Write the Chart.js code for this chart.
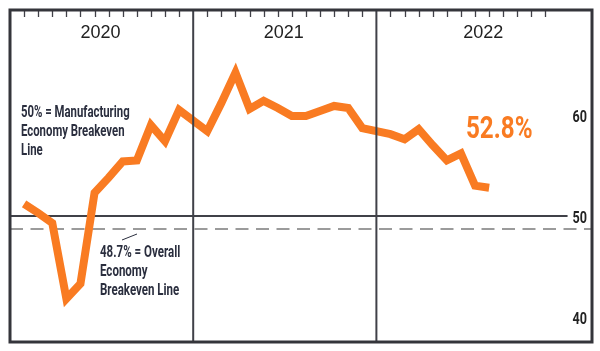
<!DOCTYPE html>
<html>
<head>
<meta charset="utf-8">
<script src="https://cdn.jsdelivr.net/npm/chart.js@4.4.1/dist/chart.umd.min.js"></script>
<style>
  html, body { margin: 0; padding: 0; background: #fff; }
</style>
</head>
<body>
<canvas id="chartCanvas" width="600" height="351"></canvas>
<script>
// ------- Data (monthly PMI) -------
const years = ["2020", "2021", "2022"];
const pmi2020 = [51.2, 50.3, 49.3, 41.8, 43.3, 52.3, 53.8, 55.4, 55.5, 59.0, 57.4, 60.5];
const pmi2021 = [58.4, 61.2, 64.2, 60.6, 61.4, 60.7, 59.9, 59.9, 60.4, 60.9, 60.7, 58.7];
const pmi2022 = [58.1, 57.6, 58.6, 57.0, 55.5, 56.2, 53.0, 52.8];
const yTicks = [40, 50, 60];
const mfgBreakeven = 50;
const overallBreakeven = 48.7;
const latestLabel = "52.8%";
const mfgNote = ["50% = Manufacturing", "Economy Breakeven", "Line"];
const overallNote = ["48.7% = Overall", "Economy", "Breakeven Line"];

// each year takes 13 slots on x: the divider, then Jan..Dec
const SLOTS = 13;
function toPoints(values, yearIdx) {
  return values.map((v, m) => ({ x: yearIdx * SLOTS + m + 1, y: v }));
}
const points = [].concat(
  toPoints(pmi2020, 0),
  toPoints(pmi2021, 1),
  toPoints(pmi2022, 2)
);

// ------- Styles -------
const ORANGE = "#F97B22";
const INK = "#2a2e3e";
const RULE = "#404148";

// fake a condensed face by squeezing horizontally
function squeezedText(ctx, text, x, y, size, color, squeeze, align) {
  ctx.save();
  ctx.font = `bold ${size}px Roboto, "Liberation Sans", sans-serif`;
  ctx.fillStyle = color;
  ctx.textBaseline = "alphabetic";
  ctx.textAlign = "left";
  const w = ctx.measureText(text).width * squeeze;
  const left = align === "right" ? x - w : x;
  ctx.translate(left, y);
  ctx.scale(squeeze, 1);
  ctx.fillText(text, 0, 0);
  ctx.restore();
  return left;
}

function hLine(ctx, x1, x2, y, width, color, dash) {
  ctx.save();
  ctx.beginPath();
  ctx.setLineDash(dash || []);
  ctx.lineWidth = width;
  ctx.strokeStyle = color;
  ctx.moveTo(x1, y);
  ctx.lineTo(x2, y);
  ctx.stroke();
  ctx.restore();
}

function vLine(ctx, x, y1, y2, width, color) {
  ctx.save();
  ctx.beginPath();
  ctx.lineWidth = width;
  ctx.strokeStyle = color;
  ctx.moveTo(x, y1);
  ctx.lineTo(x, y2);
  ctx.stroke();
  ctx.restore();
}

// ------- Decorations plugin -------
const decor = {
  id: "decor",
  beforeDatasetsDraw(chart) {
    const { ctx, chartArea: a, scales: { y } } = chart;
    // label "50" sits at the right end of the solid line
    ctx.save();
    ctx.font = "bold 17px Roboto, sans-serif";
    const labelW = ctx.measureText(String(mfgBreakeven)).width * 0.74;
    ctx.restore();
    hLine(ctx, a.left, a.right - 5 - labelW - 5, y.getPixelForValue(mfgBreakeven), 2.2, RULE);
    hLine(ctx, a.left, a.right, y.getPixelForValue(overallBreakeven), 2, "#9b9b9b", [13, 7.5]);
  },
  afterDatasetsDraw(chart) {
    const { ctx, chartArea: a, scales: { x, y } } = chart;

    // year dividers
    for (let i = 1; i < years.length; i++) {
      vLine(ctx, x.getPixelForValue(i * SLOTS), a.top, a.bottom, 2, RULE);
    }

    // month ticks along the top
    years.forEach((_, i) => {
      for (let m = 1; m <= 12; m++) {
        const px = Math.round(x.getPixelForValue(i * SLOTS + m)) + 0.5;
        vLine(ctx, px, a.top, a.top + 7, 1.3, RULE);
      }
    });

    // frame
    ctx.save();
    ctx.lineWidth = 3;
    ctx.strokeStyle = "#34353b";
    ctx.strokeRect(a.left, a.top, a.right - a.left, a.bottom - a.top);
    ctx.restore();

    // year labels
    ctx.save();
    ctx.font = '18px "Liberation Sans", Arial, sans-serif';
    ctx.fillStyle = "#222";
    ctx.textAlign = "center";
    ctx.textBaseline = "alphabetic";
    years.forEach((yr, i) => {
      const x1 = x.getPixelForValue(i * SLOTS);
      const x2 = i < years.length - 1 ? x.getPixelForValue((i + 1) * SLOTS) : a.right;
      ctx.fillText(yr, (x1 + x2) / 2 - 1, a.top + 28);
    });
    ctx.restore();

    // y tick labels, inside the frame on the right
    yTicks.forEach((t) => {
      squeezedText(ctx, String(t), a.right - 5, y.getPixelForValue(t) + 7, 17, "#222", 0.74, "right");
    });

    // notes
    mfgNote.forEach((line, i) => {
      squeezedText(ctx, line, 21, 117 + i * 19, 16, INK, 0.71);
    });
    overallNote.forEach((line, i) => {
      squeezedText(ctx, line, 100, 257 + i * 19, 16, INK, 0.72);
    });
    // small leader from the note to the dashed line
    ctx.save();
    ctx.beginPath();
    ctx.lineWidth = 1;
    ctx.strokeStyle = INK;
    ctx.moveTo(122, 240);
    ctx.lineTo(137, 234);
    ctx.stroke();
    ctx.restore();

    // latest value callout
    squeezedText(ctx, latestLabel, 466, 138, 31, ORANGE, 0.78);
  }
};

// ------- Chart -------
new Chart(document.getElementById("chartCanvas").getContext("2d"), {
  type: "line",
  data: {
    datasets: [{
      label: "PMI",
      data: points,
      borderColor: ORANGE,
      borderWidth: 8,
      borderJoinStyle: "miter",
      borderCapStyle: "butt",
      tension: 0,
      pointRadius: 0,
      fill: false
    }]
  },
  options: {
    responsive: false,
    animation: false,
    layout: { padding: { left: 10, top: 10, right: 8, bottom: 9 } },
    plugins: {
      legend: { display: false },
      tooltip: { enabled: false }
    },
    scales: {
      x: { type: "linear", min: 0, max: 41.3, display: false },
      y: { type: "linear", min: 37.52, max: 70.4, display: false }
    }
  },
  plugins: [decor]
});
</script>
</body>
</html>
